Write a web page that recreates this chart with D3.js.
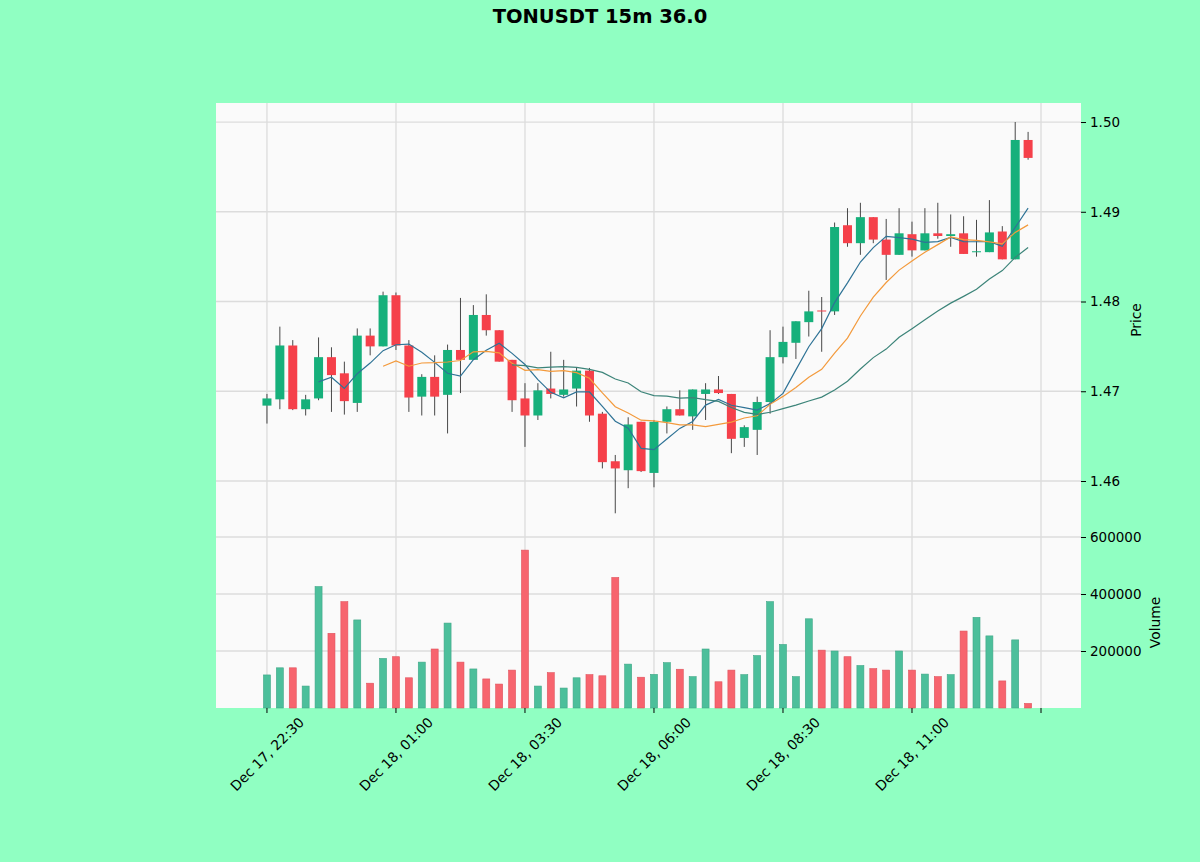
<!DOCTYPE html>
<html>
<head>
<meta charset="utf-8">
<script src="https://cdn.jsdelivr.net/npm/d3@7"></script>
<style>
  body { margin: 0; background: #90ffc2; }
  text { font-family: "DejaVu Sans", sans-serif; fill: #000; }
</style>
</head>
<body>
<div id="chart"></div>
<script>
const width = 1200;
const height = 862;

// 15m bars, first bar Dec 17 22:30
const opens  = [1.4684,1.4691,1.4751,1.4680,1.4692,1.4738,1.4720,1.4687,1.4762,1.4750,
                1.4807,1.4751,1.4694,1.4716,1.4696,1.4746,1.4735,1.4785,1.4768,1.4735,
                1.4692,1.4673,1.4703,1.4696,1.4703,1.4723,1.4675,1.4622,1.4612,1.4666,
                1.4609,1.4666,1.4680,1.4672,1.4697,1.4702,1.4697,1.4648,1.4657,1.4688,
                1.4738,1.4754,1.4777,1.4790,1.4789,1.4885,1.4865,1.4894,1.4869,1.4852,
                1.4875,1.4857,1.4876,1.4873,1.4876,1.4855,1.4855,1.4878,1.4847,1.4980];
const highs  = [1.4697,1.4772,1.4757,1.4696,1.4760,1.4749,1.4733,1.4770,1.4770,1.4811,
                1.4810,1.4757,1.4719,1.4740,1.4752,1.4804,1.4796,1.4808,1.4768,1.4735,
                1.4709,1.4709,1.4744,1.4735,1.4726,1.4726,1.4677,1.4629,1.4671,1.4666,
                1.4668,1.4683,1.4701,1.4702,1.4709,1.4717,1.4697,1.4662,1.4694,1.4768,
                1.4772,1.4778,1.4812,1.4805,1.4888,1.4904,1.4910,1.4894,1.4892,1.4904,
                1.4889,1.4904,1.4910,1.4897,1.4895,1.4891,1.4913,1.4884,1.5000,1.4989];
const lows   = [1.4664,1.4680,1.4679,1.4673,1.4690,1.4677,1.4674,1.4677,1.4740,1.4750,
                1.4746,1.4677,1.4673,1.4673,1.4653,1.4698,1.4735,1.4762,1.4733,1.4677,
                1.4638,1.4668,1.4692,1.4694,1.4683,1.4666,1.4614,1.4564,1.4592,1.4610,
                1.4593,1.4653,1.4673,1.4657,1.4668,1.4697,1.4631,1.4638,1.4629,1.4675,
                1.4731,1.4736,1.4761,1.4744,1.4785,1.4861,1.4852,1.4865,1.4824,1.4852,
                1.4850,1.4857,1.4870,1.4861,1.4853,1.4850,1.4855,1.4847,1.4847,1.4958];
const closes = [1.4692,1.4751,1.4680,1.4691,1.4738,1.4718,1.4689,1.4762,1.4750,1.4807,
                1.4751,1.4693,1.4716,1.4694,1.4746,1.4735,1.4785,1.4768,1.4733,1.4690,
                1.4673,1.4701,1.4697,1.4702,1.4723,1.4673,1.4621,1.4614,1.4663,1.4611,
                1.4666,1.4680,1.4673,1.4702,1.4702,1.4698,1.4647,1.4660,1.4688,1.4738,
                1.4755,1.4778,1.4789,1.4789,1.4883,1.4865,1.4894,1.4869,1.4852,1.4876,
                1.4857,1.4876,1.4873,1.4875,1.4853,1.4856,1.4877,1.4847,1.4980,1.4960];
const volumes = [116000,141000,141000,77000,426000,262000,373000,309000,87000,174000,
                 180000,106000,161000,207000,298000,161000,137000,102000,84000,133000,
                 554000,77000,124000,70000,106000,117000,113000,458000,154000,108000,
                 118000,159000,136000,110000,207000,92000,133000,117000,184000,373000,
                 223000,110000,313000,203000,200000,180000,149000,138000,133000,200000,
                 133000,119000,110000,117000,270000,318000,253000,95000,239000,16000];

const tickIdx = [0, 10, 20, 30, 40, 50, 60];
const tickLabels = ['Dec 17, 22:30','Dec 18, 01:00','Dec 18, 03:30','Dec 18, 06:00',
                    'Dec 18, 08:30','Dec 18, 11:00',''];
const priceTicks = [1.46, 1.47, 1.48, 1.49, 1.50];
const volTicks = [200000, 400000, 600000];
const mavs = [5, 10, 20];
const mavColors = ['#2f7396', '#f39a3c', '#3c8479'];

const upColor = '#16b07b', downColor = '#f5404a';
const upVol = '#4cbf9b', downVol = '#f7646e';
const gridColor = '#dcdcdc';

const pLeft = 216, pRight = 1081, pTop = 103, pMid = 537, pBottom = 708;

let svg = d3.select('#chart')
    .append('svg')
    .attr('width', width)
    .attr('height', height);

svg.append('rect').attr('width', width).attr('height', height).attr('fill', '#90ffc2');
svg.append('rect')
    .attr('x', pLeft).attr('y', pTop)
    .attr('width', pRight - pLeft).attr('height', pBottom - pTop)
    .attr('fill', '#fafafa');

let x = d3.scaleLinear().domain([-3.95, 63.1]).range([pLeft, pRight]);
let y = d3.scaleLinear().domain([1.45376, 1.50212]).range([pMid, pTop]);
let yv = d3.scaleLinear().domain([0, 600000]).range([pBottom, pMid]);

// grid
let grid = svg.append('g').attr('stroke', gridColor).attr('stroke-width', 1.3);
grid.selectAll('.vg').data(tickIdx).enter().append('line')
    .attr('x1', d => x(d)).attr('x2', d => x(d))
    .attr('y1', pTop).attr('y2', pBottom);
grid.selectAll('.pg').data(priceTicks).enter().append('line')
    .attr('x1', pLeft).attr('x2', pRight)
    .attr('y1', d => y(d)).attr('y2', d => y(d));
grid.selectAll('.vlg').data(volTicks).enter().append('line')
    .attr('x1', pLeft).attr('x2', pRight)
    .attr('y1', d => yv(d)).attr('y2', d => yv(d));

const idx = d3.range(closes.length);
const bodyW = 9, volW = 7;

// volume bars
svg.append('g').selectAll('rect').data(idx).enter().append('rect')
    .attr('x', i => x(i) - volW / 2)
    .attr('width', volW)
    .attr('y', i => yv(volumes[i]))
    .attr('height', i => yv(0) - yv(volumes[i]))
    .attr('fill', i => closes[i] >= opens[i] ? upVol : downVol)
    .attr('stroke', i => closes[i] >= opens[i] ? '#3fa787' : '#e0525c')
    .attr('stroke-width', 0.6);

// wicks
svg.append('g').selectAll('line').data(idx).enter().append('line')
    .attr('x1', i => x(i)).attr('x2', i => x(i))
    .attr('y1', i => y(highs[i])).attr('y2', i => y(lows[i]))
    .attr('stroke', '#333')
    .attr('stroke-width', 0.9);

// bodies
svg.append('g').selectAll('rect').data(idx).enter().append('rect')
    .attr('x', i => x(i) - bodyW / 2)
    .attr('width', bodyW)
    .attr('y', i => y(Math.max(opens[i], closes[i])))
    .attr('height', i => Math.max(1, Math.abs(y(opens[i]) - y(closes[i]))))
    .attr('fill', i => closes[i] >= opens[i] ? upColor : downColor);

// moving averages
mavs.forEach(function(n, k) {
    let pts = [];
    for (let i = n - 1; i < closes.length; i++) {
        pts.push([i, d3.mean(closes.slice(i - n + 1, i + 1))]);
    }
    svg.append('path')
        .datum(pts)
        .attr('fill', 'none')
        .attr('stroke', mavColors[k])
        .attr('stroke-width', 1.2)
        .attr('d', d3.line().x(d => x(d[0])).y(d => y(d[1])));
});

// axes
let priceAxis = d3.axisRight(y).tickValues(priceTicks).tickFormat(d3.format('.2f')).tickSize(5);
let gp = svg.append('g').attr('transform', `translate(${pRight},0)`).call(priceAxis);
let volAxis = d3.axisRight(yv).tickValues(volTicks).tickFormat(d3.format('d')).tickSize(5);
let gv = svg.append('g').attr('transform', `translate(${pRight},0)`).call(volAxis);
[gp, gv].forEach(g => {
    g.select('.domain').remove();
    g.selectAll('.tick line').attr('stroke', '#000');
    g.selectAll('.tick text').attr('x', 9).style('font-size', '13.5px')
        .style('font-family', '"DejaVu Sans", sans-serif').attr('fill', '#000');
});

let gx = svg.append('g');
gx.selectAll('line').data(tickIdx).enter().append('line')
    .attr('x1', d => x(d)).attr('x2', d => x(d))
    .attr('y1', pBottom).attr('y2', pBottom + 5)
    .attr('stroke', '#000');
gx.selectAll('text').data(tickIdx).enter().append('text')
    .attr('transform', d => `translate(${x(d)},${pBottom + 46}) rotate(-45)`)
    .attr('text-anchor', 'middle')
    .attr('dominant-baseline', 'central')
    .style('font-size', '13.8px')
    .text((d, i) => tickLabels[i]);

svg.append('text')
    .attr('transform', `translate(1136,${(pTop + pMid) / 2}) rotate(-90)`)
    .attr('text-anchor', 'middle')
    .attr('dominant-baseline', 'central')
    .style('font-size', '13.8px')
    .text('Price');
svg.append('text')
    .attr('transform', `translate(1155,${(pMid + pBottom) / 2}) rotate(-90)`)
    .attr('text-anchor', 'middle')
    .attr('dominant-baseline', 'central')
    .style('font-size', '13.8px')
    .text('Volume');

svg.append('text')
    .attr('x', width / 2).attr('y', 23)
    .attr('text-anchor', 'middle')
    .style('font-size', '19.5px')
    .style('font-weight', 'bold')
    .text('TONUSDT 15m 36.0');
</script>
</body>
</html>
